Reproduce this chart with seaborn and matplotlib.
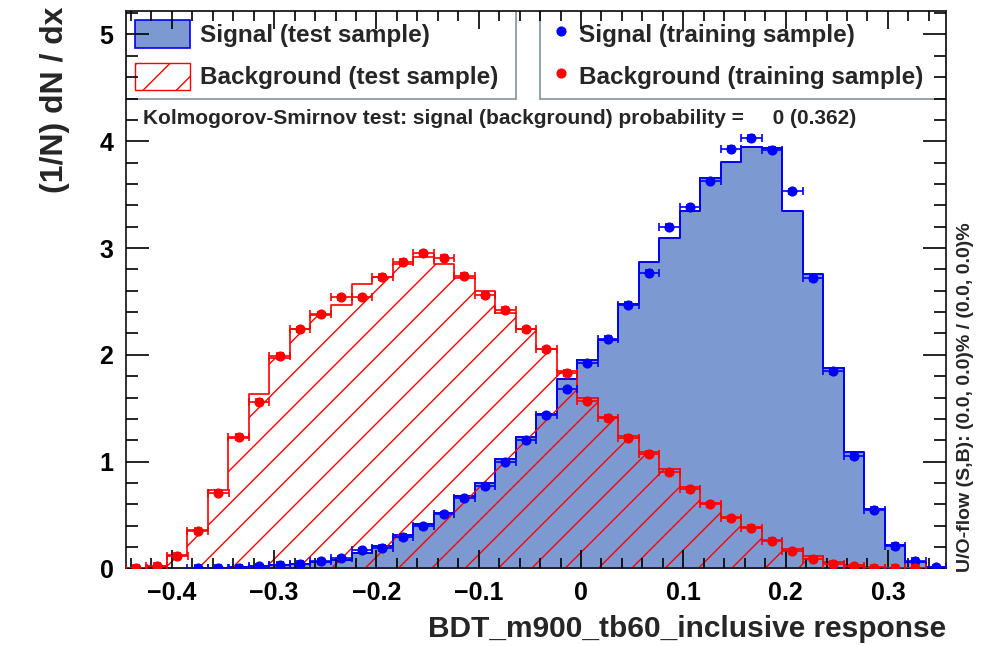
import numpy as np
import pandas as pd
import matplotlib
matplotlib.use("Agg")
import matplotlib.pyplot as plt
import seaborn as sns
from matplotlib.patches import Patch
from matplotlib.lines import Line2D
from matplotlib.ticker import MultipleLocator, FuncFormatter

# BDT output range and binning (40 bins, TMVA style)
x_min, x_max = -0.4448, 0.3568
n_bins = 40

# normalised histograms, one value per bin
sig_test = [0, 0, 0, 0.0, 0.005, 0.01, 0.02, 0.03, 0.04, 0.06,
            0.08, 0.14, 0.21, 0.31, 0.42, 0.52, 0.68, 0.80, 1.02, 1.23,
            1.45, 1.77, 1.95, 2.14, 2.48, 2.87, 3.09, 3.35, 3.66, 3.81,
            3.95, 3.94, 3.35, 2.76, 1.88, 1.09, 0.56, 0.22, 0.06, 0.01]
bkg_test = [0.005, 0.02, 0.13, 0.36, 0.73, 1.22, 1.63, 1.97, 2.24, 2.37,
            2.47, 2.66, 2.73, 2.85, 2.92, 2.85, 2.72, 2.60, 2.39, 2.24,
            2.05, 1.85, 1.60, 1.42, 1.24, 1.09, 0.93, 0.76, 0.61, 0.48,
            0.39, 0.27, 0.18, 0.12, 0.06, 0.03, 0.01, 0.003, 0.002, 0]
# training samples (nan = empty bin, not drawn)
sig_train = [np.nan, np.nan, np.nan, 0.003, 0.005, 0.005, 0.02, 0.035, 0.04, 0.065,
             0.095, 0.17, 0.19, 0.295, 0.395, 0.505, 0.656, 0.771, 1.0, 1.204,
             1.433, 1.677, 1.926, 2.15, 2.47, 2.77, 3.20, 3.38, 3.63, 3.93,
             4.03, 3.92, 3.53, 2.72, 1.85, 1.05, 0.55, 0.21, 0.07, 0.01]
bkg_train = [0.005, 0.025, 0.12, 0.35, 0.71, 1.23, 1.56, 1.99, 2.24, 2.38,
             2.54, 2.54, 2.73, 2.87, 2.95, 2.91, 2.74, 2.56, 2.42, 2.24,
             2.05, 1.83, 1.57, 1.41, 1.22, 1.07, 0.90, 0.74, 0.60, 0.47,
             0.38, 0.26, 0.16, 0.09, 0.045, 0.02, 0.005, 0.003, 0.003, np.nan]

ks_text = "Kolmogorov-Smirnov test: signal (background) probability =     0 (0.362)"
uo_text = "U/O-flow (S,B): (0.0, 0.0)% / (0.0, 0.0)%"

edges = np.linspace(x_min, x_max, n_bins + 1)
centers = 0.5 * (edges[:-1] + edges[1:])
half_bw = 0.5 * (edges[1] - edges[0])

df = pd.DataFrame({"x": centers, "sig": sig_test, "bkg": bkg_test})

sig_fill = "#7d99d1"
sig_line = "#0000ee"
bkg_line = "#ff0000"

sns.set_style("ticks", {"xtick.direction": "in", "ytick.direction": "in"})
plt.rcParams["font.family"] = ["Liberation Sans", "DejaVu Sans"]
plt.rcParams["font.weight"] = "bold"
plt.rcParams["hatch.linewidth"] = 1.0

fig = plt.figure(figsize=(9.93, 6.46), dpi=100)
ax = fig.add_axes([126 / 993, 1 - 568.4 / 646, 820 / 993, 557.4 / 646])
ax.set_axisbelow(False)

# test samples as filled / hatched step histograms
sns.histplot(data=df, x="x", weights="sig", bins=n_bins, binrange=(x_min, x_max),
             element="step", fill=True, color=sig_line, facecolor=sig_fill,
             edgecolor=sig_line, linewidth=1.4, alpha=1, ax=ax, zorder=1)
sns.histplot(data=df, x="x", weights="bkg", bins=n_bins, binrange=(x_min, x_max),
             element="step", fill=True, color=bkg_line, facecolor="none",
             edgecolor=bkg_line, hatch="/", linewidth=1.2, alpha=1, ax=ax,
             zorder=1.5)

# training samples as points with error bars
ax.errorbar(centers, sig_train, xerr=half_bw, yerr=0.025, fmt="o", color="#0000ff",
            ms=6.3, elinewidth=1.2, capsize=3, capthick=1.2, zorder=4)
ax.errorbar(centers, bkg_train, xerr=half_bw, yerr=0.025, fmt="o", color=bkg_line,
            ms=6.3, elinewidth=1.2, capsize=3, capthick=1.2, zorder=4.5)

ax.set_xlim(x_min, x_max)
ax.set_ylim(0, 5.22)

ax.xaxis.set_major_locator(MultipleLocator(0.1))
ax.xaxis.set_minor_locator(MultipleLocator(0.02))
ax.yaxis.set_major_locator(MultipleLocator(1))
ax.yaxis.set_minor_locator(MultipleLocator(0.2))
ax.xaxis.set_major_formatter(FuncFormatter(
    lambda v, p: "0" if abs(v) < 1e-9 else f"{v:.1f}".replace("-", "\u2212")))
ax.tick_params(which="both", direction="in", top=True, right=True,
               width=1.2, colors="black", labelsize=18)
ax.tick_params(axis="x", which="major", length=13, pad=9)
ax.tick_params(axis="x", which="minor", length=7)
ax.tick_params(axis="y", which="major", length=16.3, pad=9)
ax.tick_params(axis="y", which="minor", length=8.4)
for s in ax.spines.values():
    s.set_linewidth(1.3)
    s.set_color("#222222")

ax.set_xlabel("BDT_m900_tb60_inclusive response", fontsize=21.5, fontweight="bold",
              ha="right")
ax.xaxis.set_label_coords(1.0, -0.083)
ax.set_ylabel("(1/N) dN / dx", fontsize=23, fontweight="bold", ha="right")
ax.yaxis.set_label_coords(-0.068, 1.008)

# legends in two boxes along the top
leg_font = {"family": "Liberation Sans", "weight": "bold", "size": 17.5}
h1 = [Patch(facecolor=sig_fill, edgecolor=sig_line, lw=1.2, label="Signal (test sample)"),
      Patch(facecolor="white", edgecolor=bkg_line, hatch="/", lw=1.0,
            label="Background (test sample)")]
leg1 = ax.legend(handles=h1, loc="upper left", bbox_to_anchor=(0, 0.8452, 0.4756, 0.1548),
                 mode="expand", borderaxespad=0, prop=leg_font, fancybox=False,
                 framealpha=1, edgecolor="#8c9aa3", borderpad=0.38, labelspacing=0.62,
                 handlelength=2.26, handleheight=1.35, handletextpad=0.42)
leg1.get_frame().set_linewidth(1.3)
leg1.set_zorder(2.2)
ax.add_artist(leg1)

h2 = [Line2D([], [], marker="o", ls="none", color="#0000ff", ms=6.3,
             label="Signal (training sample)"),
      Line2D([], [], marker="o", ls="none", color=bkg_line, ms=6.3,
             label="Background (training sample)")]
leg2 = ax.legend(handles=h2, loc="upper left", bbox_to_anchor=(0.5049, 0.8452, 0.4951, 0.1548),
                 mode="expand", borderaxespad=0, prop=leg_font, fancybox=False,
                 framealpha=1, edgecolor="#8c9aa3", borderpad=0.38, labelspacing=0.62,
                 handlelength=1.0, handleheight=1.35, handletextpad=0.22)
leg2.get_frame().set_linewidth(1.3)
leg2.set_zorder(2.2)

ax.text(0.0207, 0.808, ks_text, transform=ax.transAxes, fontsize=15,
        fontweight="bold", va="center", ha="left")
fig.text(965 / 993, 1 - 572 / 646, uo_text, rotation=90, fontsize=14,
         fontweight="bold", va="bottom", ha="center")

fig.savefig("out.png", dpi=100)
